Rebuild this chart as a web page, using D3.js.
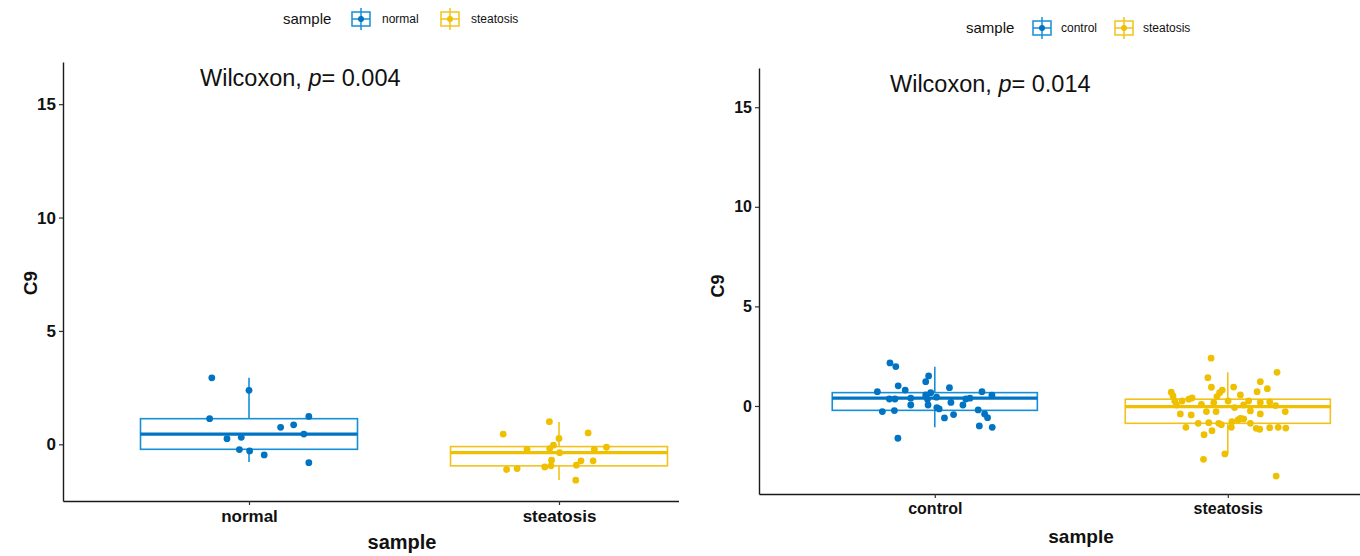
<!DOCTYPE html>
<html><head><meta charset="utf-8">
<script src="https://cdn.jsdelivr.net/npm/d3@7"></script>
<style>
html,body{margin:0;padding:0;background:#fff;}
svg{display:block;}
text{font-family:"Liberation Sans",Arial,sans-serif;}
</style></head>
<body>
<svg id="chart" width="1360" height="556"></svg>
<script>
// ---------------- DATA ----------------
const leftCategories = ["normal", "steatosis"];
const rightCategories = ["control", "steatosis"];
const yTicks = [0, 5, 10, 15];
const leftPLabel = "0.004";
const rightPLabel = "0.014";

// left panel: normal
const leftNormalValues = [2.93, 2.38, 1.13, 1.23, 0.86, 0.75, 0.45, 0.25, 0.31, -0.23, -0.29, -0.47, -0.81];
const leftNormalJitter = [-0.12, 0.00, -0.127, 0.193, 0.144, 0.102, 0.177, -0.071, -0.025, -0.031, 0.002, 0.049, 0.193];
// left panel: steatosis
const leftSteatosisValues = [1.00, 0.45, 0.50, 0.26, -0.04, -0.19, -0.22, -0.22, -0.13, -0.37, -0.70, -0.73, -0.73, -0.92, -0.95, -1.00, -1.07, -1.11, -1.58];
const leftSteatosisJitter = [-0.031, -0.18, 0.094, 0.000, -0.018, -0.03, -0.103, 0.114, 0.153, 0.002, -0.024, 0.11, 0.071, 0.056, -0.026, -0.046, -0.135, -0.169, 0.054];

// right panel: control
const rightControlValues = [2.16, 1.98, 1.51, 1.22, 1.01, 0.92, 0.80, 0.72, 0.72, 0.54, 0.67, 0.55, 0.34, 0.35, 0.35, 0.39, 0.44, 0.35, 0.39, 0.18, 0.05, 0.05, 0.05, -0.08, -0.15, -0.28, -0.23, -0.20, -0.40, -0.43, -0.59, -0.60, -1.00, -1.07, -1.62];
const rightControlJitter = [-0.153, -0.133, -0.021, -0.031, -0.125, 0.05, -0.101, -0.196, 0.161, 0.195, -0.014, -0.031, -0.025, -0.155, -0.136, -0.082, 0.006, 0.106, 0.12, 0.055, -0.082, -0.023, 0.096, 0.007, 0.015, -0.179, -0.138, 0.148, 0.17, 0.064, 0.18, 0.033, 0.152, 0.196, -0.126];
// right panel: steatosis
const rightSteatosisValues = [2.40, 1.69, 1.42, 1.22, 0.94, 0.95, 0.87, 0.80, 0.72, 0.69, 0.67, 0.50, 0.55, 0.40, 0.34, 0.47, 0.25, 0.25, 0.25, 0.25, 0.18, 0.20, 0.08, 0.17, 0.05, -0.08, 0.02, 0.05, -0.28, -0.28, -0.25, -0.40, -0.28, -0.40, -0.45, -0.62, -0.65, -0.70, -0.79, -0.87, -0.84, -0.87, -0.94, -0.87, -1.07, -1.07, -1.12, -1.17, -1.09, -1.07, -1.11, -1.24, -1.44, -2.41, -2.68, -3.52];
const rightSteatosisJitter = [-0.057, 0.168, -0.068, 0.111, -0.056, 0.02, 0.135, -0.019, 0.1, -0.193, -0.028, -0.187, 0.043, -0.122, -0.133, -0.037, -0.181, -0.156, 0.001, 0.071, 0.111, 0.143, -0.09, -0.048, 0.054, 0.023, 0.163, -0.175, -0.073, -0.04, 0.077, 0.111, 0.196, -0.162, -0.125, 0.043, 0.054, 0.035, 0.014, -0.101, -0.065, -0.031, -0.022, 0.077, -0.143, 0.012, 0.097, 0.109, 0.143, 0.172, 0.198, -0.054, -0.081, -0.01, -0.083, 0.165];

// box statistics [lowerWhisker, q1, median, q3, upperWhisker]
const leftNormalBox = [-0.78, -0.22, 0.45, 1.13, 2.93];
const leftSteatosisBox = [-1.57, -0.95, -0.37, -0.10, 0.98];
const rightControlBox = [-1.07, -0.22, 0.39, 0.67, 1.97];
const rightSteatosisBox = [-2.41, -0.87, -0.03, 0.34, 1.69];

// ---------------- STYLE ----------------
const colors = {a: "#0073C2", b: "#EFC000"};
const boxStroke = {a: "#1590d8", b: "#f3c21a"};

const svg = d3.select("#chart");

function drawPanel(cfg) {
  const g = svg.append("g");
  const clipId = "clip" + cfg.id;
  svg.append("defs").append("clipPath").attr("id", clipId)
    .append("rect").attr("x", cfg.clipX0).attr("y", 0).attr("width", cfg.clipX1 - cfg.clipX0).attr("height", 556);
  const pg = g.append("g").attr("clip-path", `url(#${clipId})`);

  const x = d3.scalePoint().domain(cfg.categories).range([cfg.x0, cfg.x1]).padding(0.6);
  const step = x.step();
  const y = d3.scaleLinear().domain(cfg.yDomain).range([cfg.yBottom, cfg.yTop]);

  // boxes
  cfg.groups.forEach((grp, i) => {
    const cx = x(cfg.categories[i]);
    const hw = 0.35 * step;
    const s = grp.box;
    const bg = pg.append("g");
    bg.append("line").attr("x1", cx).attr("x2", cx).attr("y1", y(s[0])).attr("y2", y(s[1]))
      .attr("stroke", grp.stroke).attr("stroke-width", 1.6);
    bg.append("line").attr("x1", cx).attr("x2", cx).attr("y1", y(s[3])).attr("y2", y(s[4]))
      .attr("stroke", grp.stroke).attr("stroke-width", 1.6);
    bg.append("rect").attr("x", cx - hw).attr("y", y(s[3])).attr("width", 2 * hw).attr("height", y(s[1]) - y(s[3]))
      .attr("fill", "none").attr("stroke", grp.stroke).attr("stroke-width", 1.6);
    bg.append("line").attr("x1", cx - hw).attr("x2", cx + hw).attr("y1", y(s[2])).attr("y2", y(s[2]))
      .attr("stroke", grp.color).attr("stroke-width", 3.2);
    // points
    pg.append("g").selectAll("circle").data(grp.values).join("circle")
      .attr("cx", (d, k) => cx + grp.jitter[k] * step)
      .attr("cy", d => y(d))
      .attr("r", 3.4)
      .attr("fill", grp.color);
  });

  // axes
  const yAxis = d3.axisLeft(y).tickValues(yTicks).tickSizeInner(4).tickSizeOuter(0).tickPadding(3).tickFormat(d3.format("d"));
  const ya = g.append("g").attr("transform", `translate(${cfg.x0},0)`).call(yAxis);
  const xAxis = d3.axisBottom(x).tickSizeInner(4).tickSizeOuter(0).tickPadding(5);
  const xa = pg.append("g").attr("transform", `translate(0,${cfg.yBottom})`).call(xAxis);
  [ya, xa].forEach(a => {
    a.select(".domain").attr("stroke", "#1a1a1a").attr("stroke-width", 1.4);
    a.selectAll(".tick line").attr("stroke", "#333").attr("stroke-width", 1.2);
    a.selectAll(".tick text").attr("fill", "#111").attr("font-weight", "bold")
      .attr("font-size", cfg.tickFont).attr("font-family", "Liberation Sans, Arial, sans-serif");
  });
  // axis titles
  g.append("text").attr("transform", `translate(${cfg.yTitleX},${cfg.yTitleY}) rotate(-90)`)
    .attr("text-anchor", "middle").attr("font-weight", "bold").attr("font-size", cfg.titleFont).attr("fill", "#111").text("C9");
  g.append("text").attr("x", cfg.xTitleX).attr("y", cfg.xTitleY)
    .attr("text-anchor", "middle").attr("font-weight", "bold").attr("font-size", cfg.xTitleFont).attr("fill", "#111").text("sample");

  // Wilcoxon label
  const lt = g.append("text").attr("x", cfg.pX).attr("y", cfg.pY)
    .attr("font-family", "Lato, 'Open Sans', sans-serif").attr("font-size", 23.5).attr("fill", "#111");
  lt.append("tspan").text("Wilcoxon, ");
  lt.append("tspan").attr("font-style", "italic").text("p");
  lt.append("tspan").text("= " + cfg.pLabel);

  // legend
  const lg = g.append("g").attr("transform", `translate(${cfg.legX},${cfg.legY})`);
  lg.append("text").attr("x", 0).attr("y", 5).attr("font-size", 15).attr("fill", "#111").text("sample");
  cfg.groups.forEach((grp, i) => {
    const kx = cfg.legKeys[i];
    const k = lg.append("g").attr("transform", `translate(${kx},0)`);
    k.append("rect").attr("x", -9).attr("y", -7).attr("width", 18).attr("height", 14).attr("fill", "#fff").attr("stroke", grp.stroke).attr("stroke-width", 1.5);
    k.append("line").attr("x1", -9).attr("x2", 9).attr("y1", 0).attr("y2", 0).attr("stroke", grp.stroke).attr("stroke-width", 1.5);
    k.append("line").attr("x1", 0).attr("x2", 0).attr("y1", -11).attr("y2", 11).attr("stroke", grp.stroke).attr("stroke-width", 1.5);
    k.append("circle").attr("cx", 0).attr("cy", 0).attr("r", 3).attr("fill", grp.color);
    lg.append("text").attr("x", kx + cfg.legTextGap).attr("y", 4).attr("font-size", 12).attr("fill", "#111").text(cfg.categories[i]);
  });
}

drawPanel({
  id: "L", categories: leftCategories,
  x0: 63, x1: 745, clipX0: 0, clipX1: 679,
  yDomain: [-2.5, 16.86], yBottom: 501, yTop: 62,
  tickFont: 17, titleFont: 19, xTitleFont: 20,
  yTitleX: 37, yTitleY: 283, xTitleX: 402, xTitleY: 549,
  pX: 200, pY: 86, pLabel: leftPLabel,
  legX: 283, legY: 19, legKeys: [78, 167], legTextGap: 21,
  groups: [
    {values: leftNormalValues, jitter: leftNormalJitter, box: leftNormalBox, color: colors.a, stroke: boxStroke.a},
    {values: leftSteatosisValues, jitter: leftSteatosisJitter, box: leftSteatosisBox, color: colors.b, stroke: boxStroke.b}
  ]
});

drawPanel({
  id: "R", categories: rightCategories,
  x0: 759, x1: 1403.6, clipX0: 679, clipX1: 1360,
  yDomain: [-4.42, 16.97], yBottom: 494, yTop: 68,
  tickFont: 16, titleFont: 18, xTitleFont: 19,
  yTitleX: 724, yTitleY: 286, xTitleX: 1081, xTitleY: 543,
  pX: 890, pY: 92, pLabel: rightPLabel,
  legX: 966, legY: 28, legKeys: [76, 158], legTextGap: 19,
  groups: [
    {values: rightControlValues, jitter: rightControlJitter, box: rightControlBox, color: colors.a, stroke: boxStroke.a},
    {values: rightSteatosisValues, jitter: rightSteatosisJitter, box: rightSteatosisBox, color: colors.b, stroke: boxStroke.b}
  ]
});
</script>
</body></html>
